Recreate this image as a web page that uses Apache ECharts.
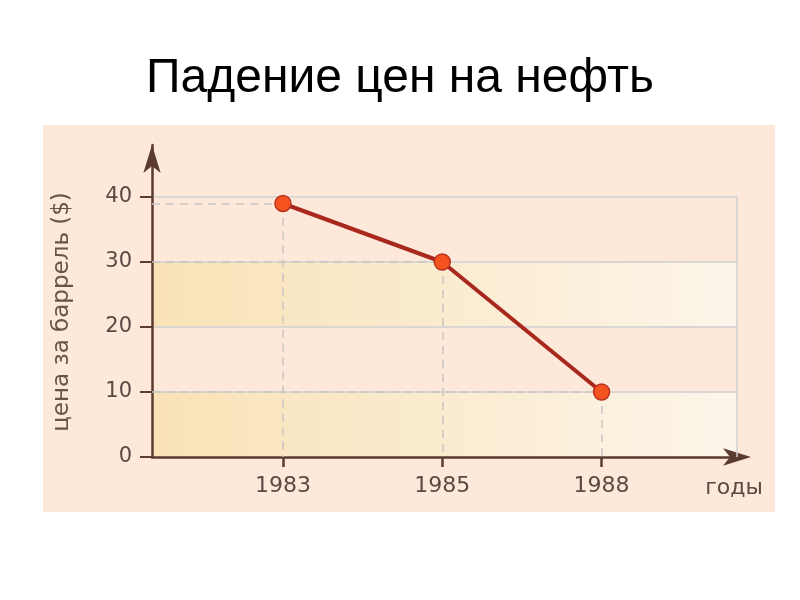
<!DOCTYPE html>
<html>
<head>
<meta charset="utf-8">
<script src="https://cdn.jsdelivr.net/npm/echarts@6/dist/echarts.min.js"></script>
<style>
html,body{margin:0;padding:0;background:#fff;}
#main{width:800px;height:600px;}
</style>
</head>
<body>
<div id="main"></div>
<script>
var years=['1983','1985','1988'];
var prices=[39,30,10];
var yTicks=[0,10,20,30,40];

var xMin=-0.822, xMax=2.85;

var pts=prices.map(function(v,i){return [i,v];});
var drops=[];
pts.forEach(function(p){
    drops.push([{coord:[xMin,p[1]]},{coord:[p[0],p[1]]}]);
    drops.push([{coord:[p[0],p[1]]},{coord:[p[0],0]}]);
});

var band=new echarts.graphic.LinearGradient(0,0,1,0,[
    {offset:0,color:'#f9e2b6'},
    {offset:1,color:'#fcf5ea'}
]);

var myChart=echarts.init(document.getElementById('main'));
var option={
    backgroundColor:'#fff',
    title:{
        text:'Падение цен на нефть',
        left:'center',
        top:50,
        textStyle:{fontFamily:'Liberation Sans',fontSize:48,fontWeight:'normal',color:'#000'}
    },
    graphic:[{
        type:'rect',
        z:-10,
        shape:{x:43,y:125,width:732,height:387},
        style:{fill:'#fde8da'}
    }],
    grid:{left:152,right:63,top:145,bottom:143},
    xAxis:{
        type:'value',
        min:xMin,
        max:xMax,
        name:'годы',
        nameLocation:'end',
        nameGap:-3,
        nameTextStyle:{
            fontFamily:'DejaVu Sans',fontSize:22,color:'#5a4a42',
            align:'center',verticalAlign:'top',padding:[20,0,0,0]
        },
        axisLine:{
            lineStyle:{color:'#5b3b2e',width:2.5},
            symbol:['none','arrow'],
            symbolSize:[13,28],
            symbolOffset:[0,14]
        },
        axisTick:{show:true,length:10,customValues:[0,1,2],lineStyle:{color:'#5b3b2e',width:2.5}},
        axisLabel:{
            customValues:[0,1,2],
            margin:18,
            fontFamily:'DejaVu Sans',fontSize:22,color:'#5a4a42',
            formatter:function(v){return years[Math.round(v)];}
        },
        splitLine:{show:false}
    },
    yAxis:{
        type:'value',
        min:0,
        max:48,
        interval:10,
        name:'цена за баррель ($)',
        nameLocation:'middle',
        nameGap:78,
        nameTextStyle:{fontFamily:'DejaVu Sans',fontSize:23,color:'#6a5448',padding:[0,22,0,0]},
        axisLine:{
            show:true,
            onZero:false,
            lineStyle:{color:'#5b3b2e',width:2.5},
            symbol:['none','arrow'],
            symbolSize:[13,28]
        },
        axisTick:{show:true,length:12,customValues:yTicks,lineStyle:{color:'#5b3b2e',width:2}},
        axisLabel:{
            customValues:yTicks,
            margin:20,
            fontFamily:'DejaVu Sans',fontSize:21,color:'#5a4a42'
        },
        splitLine:{show:true,showMinLine:false,showMaxLine:true,lineStyle:{color:'#cfcfd2',width:1.5}},
        splitArea:{show:true,areaStyle:{color:[band,'rgba(0,0,0,0)',band,'rgba(0,0,0,0)','rgba(0,0,0,0)']}}
    },
    series:[{
        type:'line',
        data:pts,
        symbol:'circle',
        symbolSize:16,
        z:5,
        lineStyle:{color:'#a8281e',width:4},
        itemStyle:{color:'#f4521e',borderColor:'#b83220',borderWidth:1.5},
        markLine:{
            silent:true,
            symbol:['none','none'],
            label:{show:false},
            lineStyle:{color:'#c9c5c2',width:1.5,type:[8,6]},
            data:drops.concat([[{coord:[xMax,0],lineStyle:{type:'solid',color:'#cfcfd2'}},{coord:[xMax,40]}]])
        }
    }]
};
myChart.setOption(option);
</script>
</body>
</html>
